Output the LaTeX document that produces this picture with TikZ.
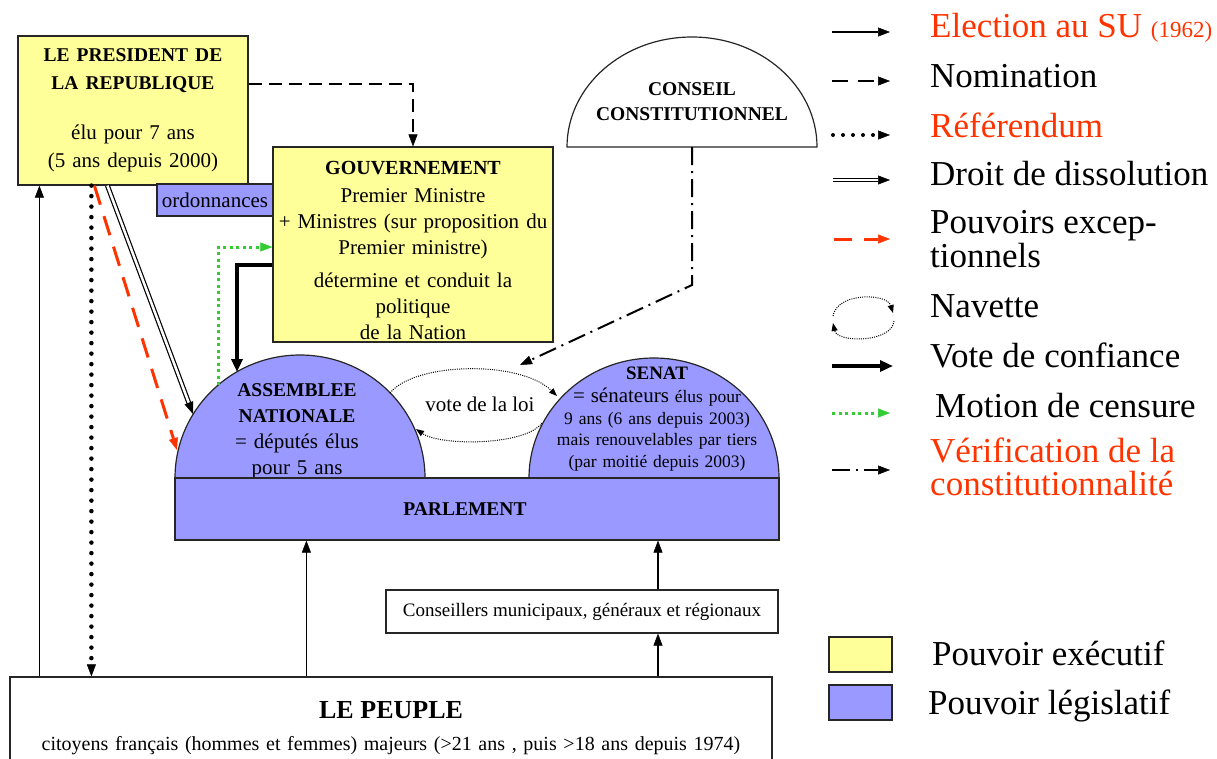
\documentclass[tikz,border=0pt]{standalone}
\usepackage{fontspec}
\setmainfont{Liberation Serif}
\usetikzlibrary{arrows.meta}

\definecolor{jaune}{HTML}{FFFF99}
\definecolor{bleu}{HTML}{9999FF}
\definecolor{rouge}{HTML}{FF3300}
\definecolor{vert}{HTML}{33CC33}

\newcommand{\taille}[2]{\fontsize{#1}{#2}\selectfont}

\tikzset{
    boite/.style={draw=black!85, line width=1.2pt, align=center, inner sep=0pt},
    executif/.style={boite, fill=jaune},
    legislatif/.style={boite, fill=bleu},
    dome/.style={draw=black!85, line width=1.2pt},
    pointe/.style={-{Stealth[length=12pt, width=9pt, inset=0pt, line width=0.5pt]}},
    election/.style={pointe, line width=1.2pt},
    nomination/.style={pointe, line width=2pt, dash pattern=on 13pt off 7pt},
    referendum/.style={pointe, line width=4.5pt, line cap=round, dash pattern=on 0pt off 10.5pt},
    dissolution/.style={pointe, line width=1.2pt, double, double distance=2.5pt},
    exception/.style={pointe, draw=rouge, line width=3pt, dash pattern=on 20pt off 12pt},
    navette/.style={-{Stealth[length=8pt, width=6pt, inset=0pt]}, line width=1pt, dash pattern=on 1pt off 1.2pt},
    confiance/.style={-{Stealth[length=13pt, width=11pt, inset=0pt]}, line width=4pt},
    censure/.style={pointe, draw=vert, line width=3pt, dash pattern=on 3pt off 3.5pt},
    verification/.style={pointe, line width=2pt, dash pattern=on 18pt off 6pt on 2pt off 6pt},
    legende/.style={anchor=base west, inner sep=0pt, align=left, font=\taille{35}{34}},
}

\begin{document}
\begin{tikzpicture}[x=1pt, y=-1pt]
    \useasboundingbox (0,0) rectangle (1217,758);
    \clip (0,0) rectangle (1217,758);

    \node[executif, minimum width=230pt, minimum height=149pt, text width=226pt, font=\taille{21}{28}] (pres) at (133,110.5)
        {{\taille{19.5}{28}\bfseries LE PRESIDENT DE\\ LA REPUBLIQUE}\\[22pt] élu pour 7 ans\\ (5 ans depuis 2000)};
    \node[legislatif, minimum width=116pt, minimum height=32pt, font=\taille{21}{24}] (ordo) at (215,200) {ordonnances};
    \node[executif, minimum width=280pt, minimum height=195pt, text width=276pt, font=\taille{21}{26}] (gouv) at (413,244.5)
        {\rule{0pt}{24.5pt}{\taille{20}{26}\bfseries GOUVERNEMENT}\\[2pt] Premier Ministre\\ + Ministres (sur proposition du\\ Premier ministre)\\[7pt] détermine et conduit la\\ politique\\ de la Nation};

    \draw[dome, fill=white] (567,147) arc[start angle=180, end angle=0, x radius=125pt, y radius=110pt] -- cycle;
    \node[align=center, font=\taille{19.5}{25}\bfseries] (cc) at (692,102) {CONSEIL\\ CONSTITUTIONNEL};

    \draw[dome, fill=bleu] (175,478) arc[start angle=180, end angle=0, x radius=125pt, y radius=123pt] -- cycle;
    \node[text width=240pt, align=center, font=\taille{21}{26}] (an) at (297,431)
        {{\taille{19.5}{26}\bfseries ASSEMBLEE\\ NATIONALE}\\ = députés élus\\ pour 5 ans};
    \draw[dome, fill=bleu] (529,478) arc[start angle=180, end angle=0, x radius=125pt, y radius=120pt] -- cycle;
    \node[text width=240pt, align=center, font=\taille{17.5}{21.5}] (senat) at (657,419)
        {{\taille{19}{22}\bfseries SENAT}\\[2pt] {\taille{21}{22}= sénateurs} élus pour\\ 9 ans (6 ans depuis 2003)\\ mais renouvelables par tiers\\ (par moitié depuis 2003)};
    \node[font=\taille{21}{24}] (loi) at (480,404) {vote de la loi};

    \node[legislatif, minimum width=604pt, minimum height=62pt, font=\taille{19.5}{24}\bfseries] (parl) at (477,509) {PARLEMENT\hspace*{24pt}};
    \node[boite, fill=white, minimum width=392pt, minimum height=43pt, font=\taille{19}{22}] (cons) at (582,611.5)
        {Conseillers municipaux, généraux et régionaux};
    \node[boite, fill=white, minimum width=762pt, minimum height=102pt, text width=750pt, font=\taille{20}{32}] (peuple) at (391,728)
        {{\taille{26}{32}\bfseries LE PEUPLE}\\ citoyens français (hommes et femmes) majeurs (>21 ans , puis >18 ans depuis 1974)};

    \coordinate (an-confiance) at (237,372);
    \coordinate (an-censure) at (218,385);
    \coordinate (an-dissolution) at (193,414);
    \coordinate (an-exception) at (177,450);
    \coordinate (an-nav-depart) at (390,393);
    \coordinate (an-nav-arrivee) at (416,429);
    \coordinate (senat-nav-arrivee) at (557,396);
    \coordinate (senat-nav-depart) at (542,423);
    \coordinate (cc-base) at (692,147);
    \coordinate (cc-coude) at (692,285);
    \coordinate (cc-cible) at (520,365);

    \draw[nomination] ([yshift=27pt]pres.east) -| (gouv.north);
    \draw[election] ([xshift=22pt]pres.south west |- peuple.north) -- ([xshift=22pt]pres.south west);
    \draw[referendum] ([xshift=74pt]pres.south west) -- ([xshift=74pt]pres.south west |- peuple.north);
    \draw[exception] ([xshift=77pt]pres.south west) -- (an-exception);
    \draw[dissolution] ([xshift=90pt]pres.south west) -- (an-dissolution);
    \draw[confiance] ([yshift=-20pt]gouv.west) -| (an-confiance);
    \draw[censure] (an-censure) |- ([yshift=-2.5pt]gouv.west);
    \draw[navette] (an-nav-depart) .. controls (415,362) and (520,360) .. (senat-nav-arrivee);
    \draw[navette] (senat-nav-depart) .. controls (525,446) and (440,446) .. (an-nav-arrivee);
    \draw[verification] (cc-base) -- (cc-coude) -- (cc-cible);
    \draw[election] ([xshift=297pt]peuple.north west) -- ([xshift=297pt]peuple.north west |- parl.south);
    \draw[election] ([xshift=76pt]cons.south |- peuple.north) -- ([xshift=76pt]cons.south);
    \draw[election] ([xshift=76pt]cons.north) -- ([xshift=76pt]cons.north |- parl.south);

    \node[legende] (lg-elec) at (930,37) {\textcolor{rouge}{Election au SU {\taille{23}{23}(1962)}}};
    \draw[election] ([xshift=-98pt,yshift=5pt]lg-elec.base west) -- ([xshift=-40pt,yshift=5pt]lg-elec.base west);
    \node[legende] (lg-nomin) at (930,87) {Nomination};
    \draw[nomination, dash pattern=on 16pt off 10pt] ([xshift=-98pt,yshift=6pt]lg-nomin.base west) -- ([xshift=-40pt,yshift=6pt]lg-nomin.base west);
    \node[legende] (lg-refer) at (930,137) {\textcolor{rouge}{Référendum}};
    \draw[referendum, line width=4pt, dash pattern=on 0pt off 10pt] ([xshift=-97pt,yshift=2pt]lg-refer.base west) -- ([xshift=-40pt,yshift=2pt]lg-refer.base west);
    \node[legende] (lg-dissol) at (930,185) {Droit de dissolution};
    \draw[dissolution] ([xshift=-97pt,yshift=5pt]lg-dissol.base west) -- ([xshift=-40pt,yshift=5pt]lg-dissol.base west);
    \node[legende, font=\taille{35}{34}] (lg-except) at (930,267) {Pouvoirs excep-\\tionnels};
    \draw[exception, dash pattern=on 18pt off 12pt] ([xshift=-96pt,yshift=28pt]lg-except.base west) -- ([xshift=-40pt,yshift=28pt]lg-except.base west);
    \node[legende] (lg-nav) at (930,317) {Navette};
    \draw[navette] ([xshift=-97pt,yshift=1pt]lg-nav.base west) .. controls +(4,-24) and +(-6,-20) .. ([xshift=-37pt,yshift=4pt]lg-nav.base west);
    \draw[navette] ([xshift=-36pt,yshift=-4pt]lg-nav.base west) .. controls +(-2,22) and +(4,20) .. ([xshift=-97pt,yshift=-6pt]lg-nav.base west);
    \node[legende] (lg-conf) at (930,367) {Vote de confiance};
    \draw[confiance] ([xshift=-98pt,yshift=1pt]lg-conf.base west) -- ([xshift=-37pt,yshift=1pt]lg-conf.base west);
    \node[legende] (lg-cens) at (935,417) {Motion de censure};
    \draw[censure] ([xshift=-103pt,yshift=4pt]lg-cens.base west) -- ([xshift=-45pt,yshift=4pt]lg-cens.base west);
    \node[legende, font=\taille{35}{33}] (lg-verif) at (930,495) {\textcolor{rouge}{Vérification de la}\\\textcolor{rouge}{constitutionnalité}};
    \draw[verification] ([xshift=-98pt,yshift=25pt]lg-verif.base west) -- ([xshift=-40pt,yshift=25pt]lg-verif.base west);

    \node[executif, minimum width=63pt, minimum height=35pt] (sw-exec) at (860.5,654.5) {};
    \node[legende] (lg-exec) at (932,665) {Pouvoir exécutif};
    \node[legislatif, minimum width=63pt, minimum height=35pt] (sw-legis) at (860.5,702.5) {};
    \node[legende] (lg-legis) at (928,714) {Pouvoir législatif};
\end{tikzpicture}
\end{document}
